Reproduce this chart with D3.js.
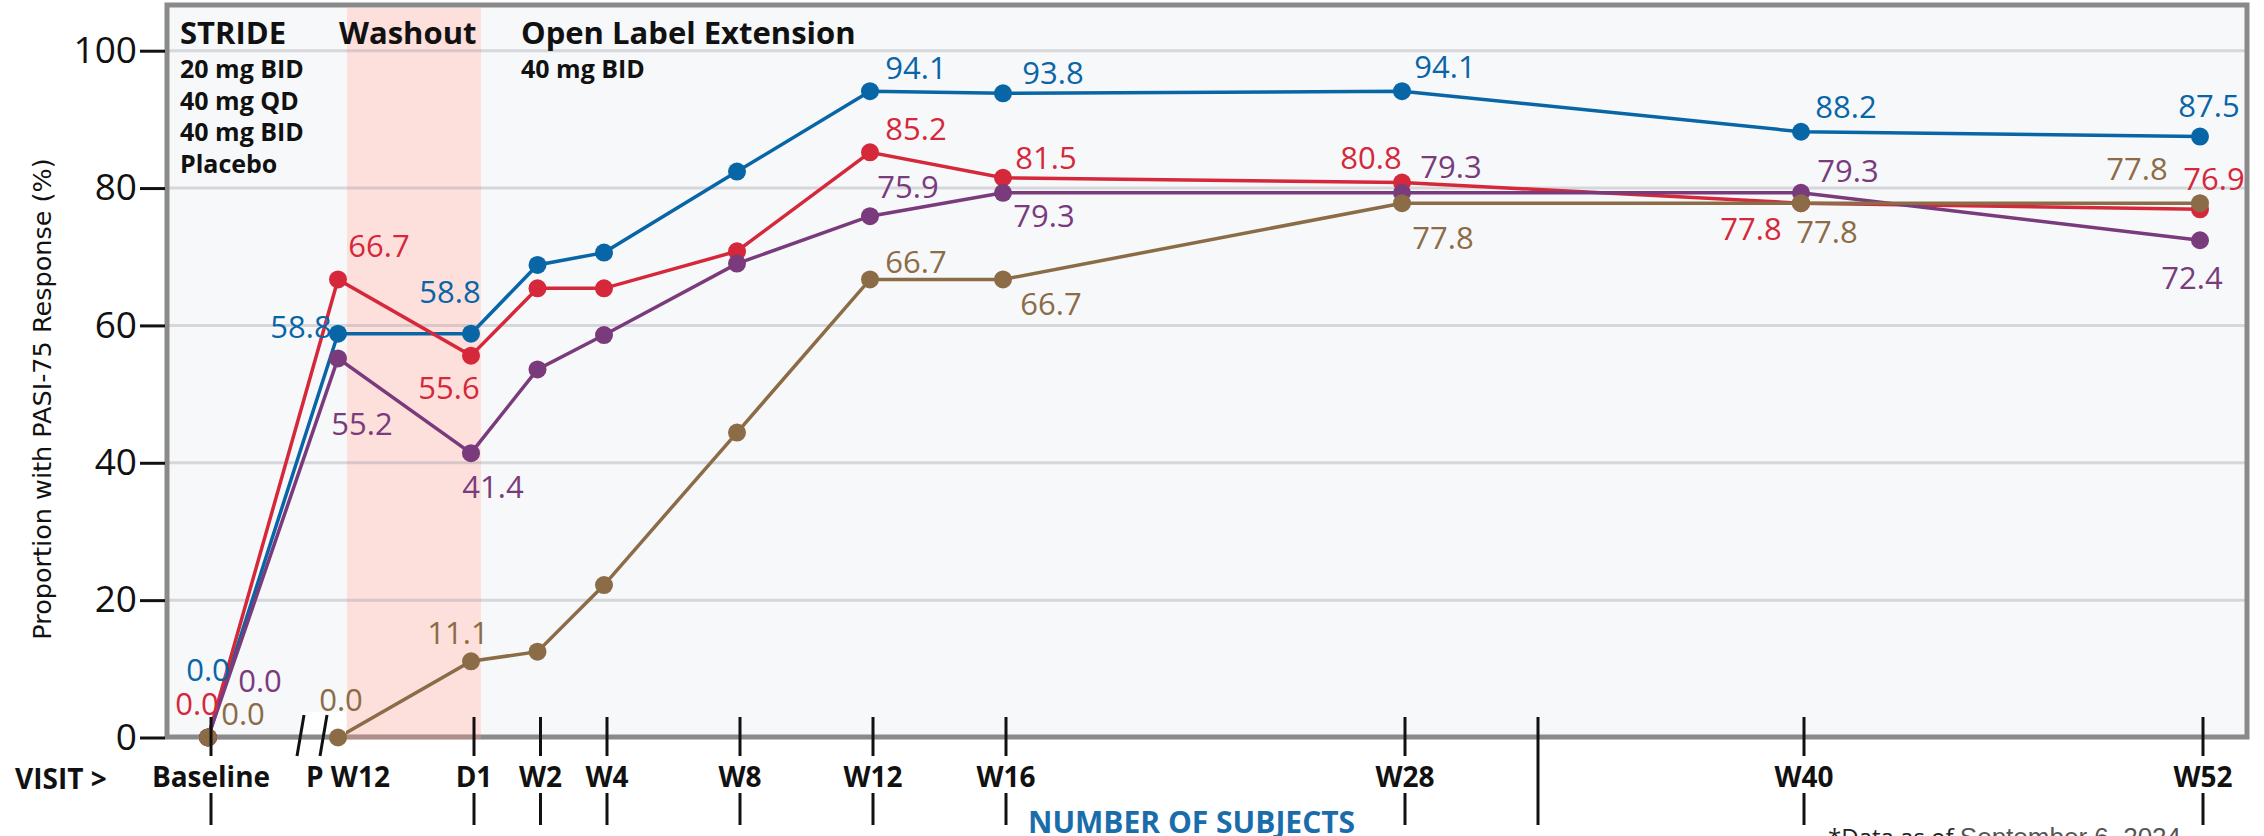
<!DOCTYPE html>
<html>
<head>
<meta charset="utf-8">
<script src="https://cdn.jsdelivr.net/npm/d3@7"></script>
<style>
  html, body { margin: 0; padding: 0; background: #fff; }
  svg { display: block; }
  text { font-family: "Open Sans", "Noto Sans", sans-serif; }
</style>
</head>
<body>
<div id="chart"></div>
<script>
/* DATA */
// visits, with study week (STRIDE weeks counted back from OLE day 1)
const visits = ["Baseline", "P W12", "D1", "W2", "W4", "W8", "W12", "W16", "W28", "W40", "W52"]
const visitWeek = [-16, -4, 0, 2, 4, 8, 12, 16, 28, 40, 52]

const seriesNames = ["20 mg BID", "40 mg QD", "40 mg BID", "Placebo"]
const bid20 = [0.0, 58.8, 58.8, 68.8, 70.6, 82.4, 94.1, 93.8, 94.1, 88.2, 87.5]
const qd40 = [0.0, 66.7, 55.6, 65.4, 65.4, 70.8, 85.2, 81.5, 80.8, 77.8, 76.9]
const bid40 = [0.0, 55.2, 41.4, 53.6, 58.6, 69.0, 75.9, 79.3, 79.3, 79.3, 72.4]
const placebo = [0.0, 0.0, 11.1, 12.5, 22.2, 44.4, 66.7, 66.7, 77.8, 77.8, 77.8]

// only these visits get a value label
const labelledVisits = ["Baseline", "P W12", "D1", "W12", "W16", "W28", "W40", "W52"]

const yTicks = [0, 20, 40, 60, 80, 100]
const axisLabels = ["Baseline", "P W12", "D1", "W2", "W4", "W8", "W12", "W16", "W28", "", "W40", "W52"]
const axisWeeks = [-16, -4, 0, 2, 4, 8, 12, 16, 28, 32, 40, 52]

const periods = ["STRIDE", "Washout", "Open Label Extension"]
const oleDose = "40 mg BID"

/* LAYOUT */
const W = 2264, H = 836
const frame = { left: 167, top: 5, right: 2247, bottom: 737 }
const colors = ["#0866a7", "#d5283a", "#7a3b7c", "#8b6c47"]

// label offsets (text centre vs point), per series then visit
const labelPos = [
    { "Baseline": [0, -68], "P W12": [-37, -7], "D1": [-21, -42], "W12": [46, -23], "W16": [50, -20], "W28": [43, -24], "W40": [45, -25], "W52": [9, -31] },
    { "Baseline": [-11, -34], "P W12": [41, -34], "D1": [-22, 32], "W12": [46, -24], "W16": [43, -20], "W28": [-31, -25], "W40": [-50, 26], "W52": [14, -31] },
    { "Baseline": [52, -57], "P W12": [24, 65], "D1": [22, 34], "W12": [38, -29], "W16": [41, 23], "W28": [49, -26], "W40": [47, -22], "W52": [-8, 38] },
    { "Baseline": [35, -24], "P W12": [3, -38], "D1": [-13, -28], "W12": [46, -18], "W16": [48, 24], "W28": [41, 35], "W40": [26, 29], "W52": [-63, -34] }
]

const allSeries = [bid20, qd40, bid40, placebo]

const svg = d3.select("#chart").append("svg")
    .attr("width", W)
    .attr("height", H)

// x has a break between baseline and placebo W12
const x = d3.scaleLinear()
    .domain([-16, -4, 52])
    .range([frame.left + 41, frame.left + 171, frame.right - 47])

const y = d3.scaleLinear()
    .domain([0, 100])
    .range([frame.bottom + 0.5, 50.7])

// plot background
svg.append("rect")
    .attr("x", frame.left).attr("y", frame.top)
    .attr("width", frame.right - frame.left).attr("height", frame.bottom - frame.top)
    .attr("fill", "#f7f8fa")

// washout band
const bandX0 = x(-4) + 9, bandX1 = x(0) + 10
svg.append("rect")
    .attr("x", bandX0).attr("y", frame.top + 3)
    .attr("width", bandX1 - bandX0).attr("height", frame.bottom - frame.top - 3)
    .attr("fill", "#fde0dc")

// gridlines
svg.append("g")
    .selectAll("line")
    .data(yTicks.filter(t => t > 0))
    .enter().append("line")
    .attr("x1", frame.left).attr("x2", frame.right)
    .attr("y1", d => y(d)).attr("y2", d => y(d))
    .attr("stroke", "rgba(140,140,150,0.3)")
    .attr("stroke-width", 3)

// lines
const line = d3.line()
    .x((d, i) => x(visitWeek[i]))
    .y(d => y(d))

svg.append("g")
    .attr("fill", "none")
    .attr("stroke-width", 3.5)
    .selectAll("path")
    .data(allSeries)
    .enter().append("path")
    .attr("stroke", (d, i) => colors[i])
    .attr("d", d => line(d))

// frame
svg.append("rect")
    .attr("x", frame.left).attr("y", frame.top)
    .attr("width", frame.right - frame.left).attr("height", frame.bottom - frame.top)
    .attr("fill", "none")
    .attr("stroke", "#8a8a8a")
    .attr("stroke-width", 5)

// band tint over the bottom edge of the frame
svg.append("rect")
    .attr("x", bandX0).attr("y", frame.bottom - 3)
    .attr("width", bandX1 - bandX0).attr("height", 6)
    .attr("fill", "#ff9e8f").attr("opacity", 0.3)

// axis break
const xb = x(-4)
svg.append("rect")
    .attr("x", xb - 36).attr("y", 712)
    .attr("width", 44).attr("height", 22)
    .attr("fill", "#fff")
svg.append("g")
    .attr("stroke", "#111").attr("stroke-width", 3)
    .selectAll("line")
    .data([-34, -11])
    .enter().append("line")
    .attr("x1", d => xb + d).attr("y1", 715)
    .attr("x2", d => xb + d - 7).attr("y2", 756)

// dots
allSeries.forEach((s, si) => {
    svg.append("g")
        .attr("fill", colors[si])
        .selectAll("circle")
        .data(s)
        .enter().append("circle")
        .attr("cx", (d, i) => x(visitWeek[i]))
        .attr("cy", d => y(d))
        .attr("r", 9)
})

// value labels
allSeries.forEach((s, si) => {
    const pts = s.map((v, i) => ({ v, visit: visits[i], wk: visitWeek[i] }))
        .filter(p => labelledVisits.includes(p.visit))
    svg.append("g")
        .attr("fill", colors[si])
        .attr("font-size", 31)
        .attr("text-anchor", "middle")
        .selectAll("text")
        .data(pts)
        .enter().append("text")
        .attr("x", p => x(p.wk) + labelPos[si][p.visit][0])
        .attr("y", p => y(p.v) + labelPos[si][p.visit][1])
        .attr("dy", "0.36em")
        .text(p => p.v.toFixed(1))
})

// y axis
const yAxis = svg.append("g")
    .attr("transform", "translate(" + (frame.left - 2) + ",0)")
    .call(d3.axisLeft(y).tickValues(yTicks).tickSize(25).tickPadding(3))
yAxis.select(".domain").remove()
yAxis.selectAll(".tick line").attr("stroke", "#111").attr("stroke-width", 3)
yAxis.selectAll(".tick text")
    .attr("font-family", "'Open Sans', sans-serif")
    .attr("font-size", 37)
    .attr("fill", "#111")

svg.append("text")
    .attr("transform", "translate(51,399) rotate(-90)")
    .attr("text-anchor", "middle")
    .style("font-family", "'DejaVu Sans', sans-serif")
    .attr("font-size", 25.5)
    .attr("fill", "#111")
    .text("Proportion with PASI-75 Response (%)")

// visit axis: ticks above and below the labels
const ticks = axisLabels.map((l, i) => ({ label: l, wk: axisWeeks[i] }))
const xTicks = svg.append("g").attr("stroke", "#111").attr("stroke-width", 3)
ticks.filter(t => t.label !== "P W12").forEach(t => {
    const xt = x(t.wk) + 3
    if (t.label === "") {
        xTicks.append("line").attr("x1", xt).attr("x2", xt).attr("y1", 717).attr("y2", 825)
    } else {
        xTicks.append("line").attr("x1", xt).attr("x2", xt).attr("y1", 717).attr("y2", 756)
        xTicks.append("line").attr("x1", xt).attr("x2", xt).attr("y1", 793).attr("y2", 825)
    }
})

svg.append("g")
    .attr("font-size", 28)
    .attr("font-weight", "bold")
    .attr("text-anchor", "middle")
    .attr("fill", "#111")
    .selectAll("text")
    .data(ticks.filter(t => t.label !== ""))
    .enter().append("text")
    .attr("x", t => x(t.wk) + (t.label === "P W12" ? 10 : 3))
    .attr("y", 787)
    .text(t => t.label)

svg.append("text")
    .attr("x", 15).attr("y", 789)
    .attr("font-size", 28).attr("font-weight", "bold").attr("fill", "#111")
    .text("VISIT >")

// period headers
const headerX = [180, 339, 521]
svg.append("g")
    .attr("font-size", 31)
    .attr("font-weight", "bold")
    .attr("fill", "#111")
    .selectAll("text")
    .data(periods)
    .enter().append("text")
    .attr("x", (d, i) => headerX[i])
    .attr("y", 44)
    .text(d => d)

svg.append("g")
    .attr("font-size", 25)
    .attr("font-weight", "bold")
    .attr("fill", "#111")
    .selectAll("text")
    .data(seriesNames)
    .enter().append("text")
    .attr("x", 180)
    .attr("y", (d, i) => 78 + i * 31.7)
    .text(d => d)

svg.append("text")
    .attr("x", 521).attr("y", 78)
    .attr("font-size", 25).attr("font-weight", "bold").attr("fill", "#111")
    .text(oleDose)

svg.append("text")
    .attr("x", 1028).attr("y", 833)
    .attr("font-size", 30).attr("font-weight", "bold").attr("fill", "#1a6dab")
    .text("NUMBER OF SUBJECTS")

const foot = svg.append("text")
    .attr("x", 1828).attr("y", 846)
foot.append("tspan")
    .attr("font-size", 24).attr("fill", "#222")
    .text("*Data as of ")
foot.append("tspan")
    .style("font-family", "'Liberation Sans', Arial, sans-serif")
    .attr("font-size", 26).attr("fill", "#555")
    .text("September 6, 2024")
</script>
</body>
</html>
